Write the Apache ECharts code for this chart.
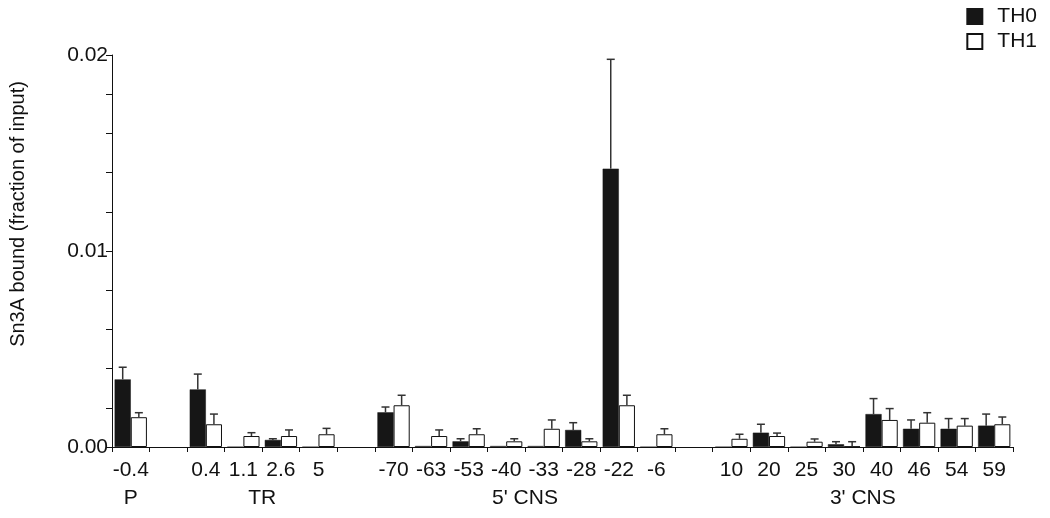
<!DOCTYPE html>
<html>
<head>
<meta charset="utf-8">
<script src="https://cdn.jsdelivr.net/npm/echarts@6/dist/echarts.min.js"></script>
<style>
  html, body { margin: 0; padding: 0; background: #fff; }
  #chart { width: 1050px; height: 518px; }
</style>
</head>
<body>
<div id="chart"></div>
<script>
// categories along the x axis, '' = spacer slot between groups
var categories = ['-0.4', '', '0.4', '1.1', '2.6', '5', '',
  '-70', '-63', '-53', '-40', '-33', '-28', '-22', '-6', '',
  '10', '20', '25', '30', '40', '46', '54', '59'];

// group labels and where their centre sits (in slot units)
var groupNames = ['P', 'TR', "5' CNS", "3' CNS"];
var groupCenters = [0.5, 4, 11, 20];

var th0 = [0.00345, null, 0.00294, 0, 0.00036, 0, null,
  0.00177, 0.00005, 0.00029, 0.00005, 0.00005, 0.00087, 0.0142, 0, null,
  0, 0.00073, 0, 0.00014, 0.00168, 0.00093, 0.00093, 0.00109];
var th0Err = [0.00062, null, 0.00078, 0, 0.00006, 0, null,
  0.00027, 0, 0.00013, 0, 0, 0.00037, 0.00558, 0, null,
  0, 0.00043, 0, 0.00013, 0.00079, 0.00045, 0.00052, 0.00059];

var th1 = [0.00152, null, 0.00116, 0.00056, 0.00056, 0.00065, null,
  0.00213, 0.00056, 0.00065, 0.00029, 0.00093, 0.00029, 0.00213, 0.00065, null,
  0.00042, 0.00056, 0.00027, 0.00002, 0.00138, 0.00124, 0.00109, 0.00116];
var th1Err = [0.00023, null, 0.00052, 0.00017, 0.00031, 0.0003, null,
  0.00051, 0.00031, 0.00028, 0.00013, 0.00045, 0.00013, 0.00051, 0.00028, null,
  0.00023, 0.00015, 0.00014, 0.00025, 0.00058, 0.00051, 0.00036, 0.00037];

// y axis: labelled ticks every 0.01, short unlabelled ones every 0.002
var yMajorStep = 0.01;
var yMinorStep = 0.002;

var catGap = 0.14;
var font = 'Liberation Sans, Arial, sans-serif';

function errData(vals, errs) {
  var out = [];
  for (var i = 0; i < vals.length; i++) {
    if (vals[i] == null || !errs[i]) continue;
    out.push([i, vals[i], errs[i]]);
  }
  return out;
}

// draws an upward error bar with cap, shifted onto the left/right bar
function errRenderer(side) {
  return function (params, api) {
    var idx = api.value(0);
    var top = api.value(1) + api.value(2);
    var band = api.size([1, 0])[0];
    var bw = band * (1 - catGap) / 2;
    var base = api.coord([idx, api.value(1)]);
    var hi = api.coord([idx, top]);
    var x = base[0] + side * bw / 2;
    var cap = 4;
    var st = { stroke: '#333', lineWidth: 1.5 };
    return {
      type: 'group',
      children: [
        { type: 'line', shape: { x1: x, y1: base[1], x2: x, y2: hi[1] }, style: st },
        { type: 'line', shape: { x1: x - cap, y1: hi[1], x2: x + cap, y2: hi[1] }, style: st }
      ]
    };
  };
}

var chart = echarts.init(document.getElementById('chart'));

var option = {
  animation: false,
  textStyle: { fontFamily: font },
  legend: {
    data: ['TH0', 'TH1'],
    orient: 'vertical',
    right: 8,
    top: 1,
    icon: 'rect',
    itemWidth: 15,
    itemHeight: 15,
    itemGap: 4,
    textStyle: { fontSize: 21, color: '#111', fontFamily: font, padding: [0, 0, 0, 10] }
  },
  grid: { left: 110, right: 37, top: 55, bottom: 71, containLabel: false },
  xAxis: [
    {
      type: 'category',
      data: categories,
      boundaryGap: true,
      axisLine: { lineStyle: { color: '#111', width: 1 } },
      axisTick: { show: true, length: 5, lineStyle: { color: '#111' }, interval: 0 },
      axisLabel: { interval: 0, fontSize: 21, color: '#111', margin: 13, fontFamily: font },
      splitLine: { show: false }
    },
    {
      type: 'value',
      min: 0,
      max: categories.length,
      position: 'bottom',
      axisLine: { show: false },
      axisTick: { show: false },
      splitLine: { show: false },
      axisLabel: {
        customValues: groupCenters,
        fontSize: 21,
        color: '#111',
        margin: 41,
        fontFamily: font,
        formatter: function (v) {
          var k = groupCenters.indexOf(v);
          return k >= 0 ? groupNames[k] : '';
        }
      }
    }
  ],
  yAxis: [
    {
      type: 'value',
      min: 0,
      max: 0.02,
      interval: yMajorStep,
      name: 'Sn3A bound (fraction of input)',
      nameLocation: 'middle',
      nameGap: 84,
      nameTextStyle: { fontSize: 20, color: '#111', fontFamily: font, padding: [0, 0, 0, 74] },
      axisLine: { show: true, lineStyle: { color: '#111', width: 1 } },
      axisTick: { show: true, length: 5, lineStyle: { color: '#111', width: 1 } },
      splitLine: { show: false },
      axisLabel: {
        fontSize: 21,
        color: '#111',
        margin: 4,
        fontFamily: font,
        formatter: function (v) { return v.toFixed(2); }
      }
    },
    {
      // overlay axis that only carries the short in-between ticks
      type: 'value',
      min: 0,
      max: 0.02,
      interval: yMinorStep,
      position: 'left',
      offset: 0,
      axisLine: { show: true, lineStyle: { color: 'rgba(0,0,0,0)' } },
      axisTick: { show: true, length: 6, lineStyle: { color: '#111', width: 1 } },
      axisLabel: { show: true, color: 'rgba(0,0,0,0)', fontSize: 8 },
      splitLine: { show: false }
    }
  ],
  series: [
    {
      name: 'TH0',
      type: 'bar',
      data: th0,
      barGap: '0%',
      barCategoryGap: (catGap * 100) + '%',
      itemStyle: { color: '#161616', borderColor: '#161616', borderWidth: 0.5 }
    },
    {
      name: 'TH1',
      type: 'bar',
      data: th1,
      itemStyle: { color: '#fff', borderColor: '#111', borderWidth: 1 }
    },
    {
      name: 'TH0 err',
      type: 'custom',
      renderItem: errRenderer(-1),
      data: errData(th0, th0Err),
      encode: { x: 0, y: 1 },
      z: 3
    },
    {
      name: 'TH1 err',
      type: 'custom',
      renderItem: errRenderer(1),
      data: errData(th1, th1Err),
      encode: { x: 0, y: 1 },
      z: 3
    }
  ]
};

chart.setOption(option);
</script>
</body>
</html>
